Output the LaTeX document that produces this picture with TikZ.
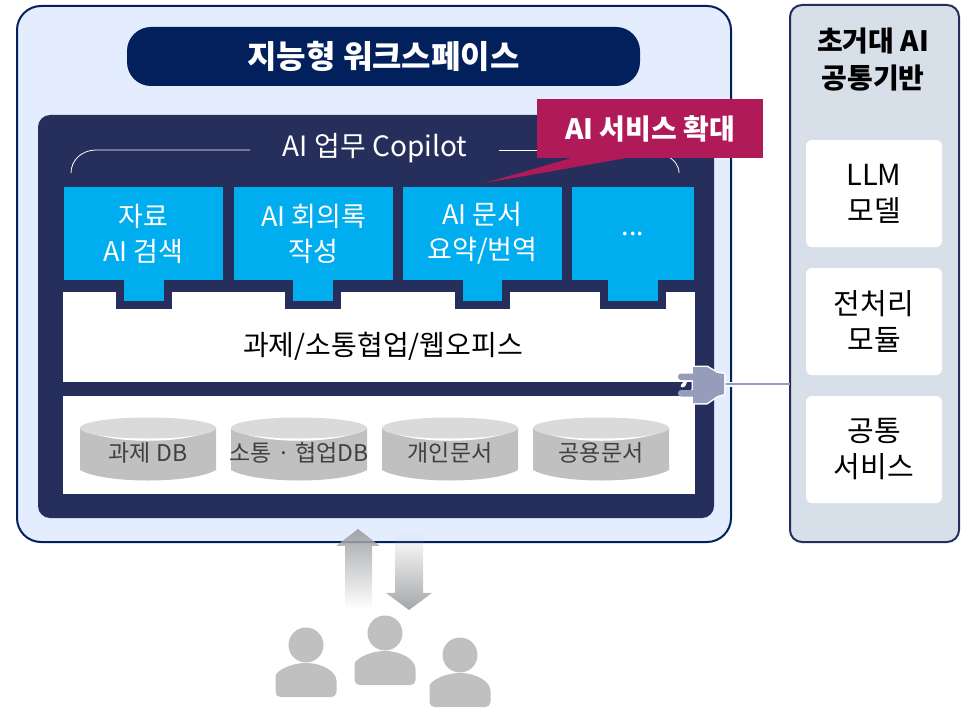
\documentclass[tikz,border=0pt]{standalone}
\usepackage{fontspec}
\setmainfont{Noto Sans CJK KR}
\usetikzlibrary{fadings}
\definecolor{navy}{HTML}{262E5B}
\definecolor{deepnavy}{HTML}{02205C}
\definecolor{skyb}{HTML}{00AEEF}
\definecolor{paleblue}{HTML}{E3EDFD}
\definecolor{sidegray}{HTML}{D7DFE9}
\definecolor{wine}{HTML}{B01A58}
\definecolor{plugc}{HTML}{969DBB}
\definecolor{dbside}{HTML}{C0C0C0}
\definecolor{dbtop}{HTML}{DADADA}
\definecolor{dbtext}{HTML}{404040}
\definecolor{arrowg}{HTML}{A4A6A8}
\newcommand{\fsz}[2]{\fontsize{#1}{#2}\selectfont}
\tikzset{
  box/.style={inner sep=0pt,outer sep=0pt,align=center},
  bluebox/.style={box,fill=skyb,text=white,font=\fsz{27}{35},minimum height=93pt},
  whitebar/.style={box,fill=white,text=black,minimum width=632pt},
  sidebox/.style={box,fill=white,rounded corners=6pt,text=black,font=\fsz{29}{36},minimum width=136pt,minimum height=107pt},
  dblabel/.style={box,text=dbtext,font=\fsz{23}{28}},
  person/.style={fill=dbside},
  thinline/.style={white,line width=0.8pt}
}
\newcommand{\cylnode}[3]{%
  \fill[dbside] (#1,428) -- (#1,470) .. controls (#1+25,484) and (#1+111,484) .. (#1+136,470) -- (#1+136,428) -- cycle;
  \fill[white] (#1,428) .. controls (#1+25,445) and (#1+111,445) .. (#1+136,428) -- cycle;
  \fill[dbtop] (#1+68,428) ellipse [x radius=68,y radius=10.5];
  \node[dblabel] (#2) at (#1+68,453) {#3};
}
\newcommand{\personfig}[3]{%
  \fill[person] (#1,#2) circle [radius=17.5];
  \fill[person,rounded corners=5pt] (#1-30.5,#2+52) -- (#1-30.5,#2+36) [sharp corners] .. controls (#1-30.5,#2+27) and (#1-17,#2+18) .. (#1,#2+18) .. controls (#1+17,#2+18) and (#1+30.5,#2+27) .. (#1+30.5,#2+36) [rounded corners=5pt] -- (#1+30.5,#2+52) -- cycle;
}
\begin{document}
\begin{tikzpicture}[x=1pt,y=-1pt]
\useasboundingbox (0,0) rectangle (973,714);
% outer
\node[box,draw=deepnavy,line width=2pt,fill=paleblue,rounded corners=24pt,minimum width=714pt,minimum height=536pt] (outer) at (374,274) {};
\node[box,fill=deepnavy,rounded corners=24pt,text=white,font=\bfseries\fsz{32}{38},minimum width=513pt,minimum height=59pt] (title) at (383.5,56.5) {지능형 워크스페이스};
\node[box,fill=navy,rounded corners=12pt,minimum width=676pt,minimum height=403pt] (panel) at (376,316.5) {};
% copilot
\node[box,text=white,font=\fsz{28}{34}] (copilot) at (375,148) {AI 업무 Copilot};
\coordinate (leftend) at (71,173);
\coordinate (rightend) at (679,173);
\draw[thinline] (leftend) .. controls (71,160) and (82,150) .. (96,150) -- (250,150);
\draw[thinline] (499,150) -- (560,150);
\draw[thinline] (640,150) .. controls (660,150) and (679,158) .. (rightend);
% white bars
\node[whitebar,font=\fsz{28}{34},minimum height=90pt] (workbar) at (379,337) {};
\node[whitebar,minimum height=98pt] (dbbar) at (379,445) {};
\node[box,text=black,font=\fsz{28}{34}] (worktext) at (383,346) {과제/소통협업/웹오피스};
% tab frames and tabs
\foreach \a/\b/\c/\d in {116/172/124/164,285/341/293/333,455/510/463/502,600/666/608/658}{
  \fill[navy] (\a,285) rectangle (\b,309);
  \fill[skyb] (\c,275) rectangle (\d,301);
}
% blue boxes
\node[bluebox,minimum width=159pt] (b1) at (143.5,233.5) {자료\\AI 검색};
\node[bluebox,minimum width=159pt] (b2) at (313.5,233.5) {AI 회의록\\작성};
\node[bluebox,minimum width=159pt] (b3) at (482.5,233.5) {AI 문서\\요약/번역};
\node[bluebox,minimum width=122pt] (b4) at (633,233.5) {...};
% callout
\fill[wine] (575,157) -- (485,183) -- (632,157) -- cycle;
\node[box,fill=wine,text=white,font=\bfseries\fsz{28}{34},minimum width=226pt,minimum height=59pt] (callout) at (650,128.5) {AI 서비스 확대};
% cylinders
\cylnode{80}{db1}{과제 DB}
\cylnode{231}{db2}{소통 · 협업DB}
\cylnode{382}{db3}{개인문서}
\cylnode{533}{db4}{공용문서}
% side panel
\node[box,draw=navy,line width=2pt,fill=sidegray,rounded corners=12pt,minimum width=169pt,minimum height=537pt] (side) at (874.5,273.5) {};
\node[box,text=black,font=\bfseries\fsz{28}{37}] (sidetitle) at (873,60) {초거대 AI\\공통기반};
\node[sidebox] (s1) at (874,193.5) {LLM\\모델};
\node[sidebox] (s2) at (874,321.5) {전처리\\모듈};
\node[sidebox] (s3) at (874,449.5) {공통\\서비스};
% plug
\coordinate (plugend) at (724,384);
\draw[white,line width=5pt] (plugend) -- (737,384);
\draw[plugc,line width=2pt] (plugend) -- (side.west |- plugend);
\draw[white,line width=3pt,fill=plugc,line join=round]
  (693,367) -- (707,367) -- (717,373) -- (724,374) -- (724,394) -- (717,396) -- (707,403) -- (693,403) -- (693,396) -- (682,396) arc [start angle=90,end angle=270,radius=-3] -- (693,390) -- (693,380) -- (682,380) arc [start angle=90,end angle=270,radius=-3] -- (693,373) -- cycle;
\fill[plugc,rounded corners=3pt] (678,373.5) rectangle (700,380);
\fill[plugc,rounded corners=3pt] (678,390) rectangle (700,396.5);
\fill[plugc] (693,367) -- (707,367) -- (717,373) -- (724,374) -- (724,394) -- (717,396) -- (707,403) -- (693,403) -- cycle;
% arrows
\fill[arrowg,path fading=south] (358,529) -- (380,546) -- (372,546) -- (372,609) -- (345,609) -- (345,546) -- (336,546) -- cycle;
\fill[arrowg,path fading=north] (395,533) -- (423,533) -- (423,593) -- (432,593) -- (409,610) -- (386,593) -- (395,593) -- cycle;
% people
\personfig{306}{645}{p1}
\personfig{385}{633}{p2}
\personfig{460}{655}{p3}
\end{tikzpicture}
\end{document}
